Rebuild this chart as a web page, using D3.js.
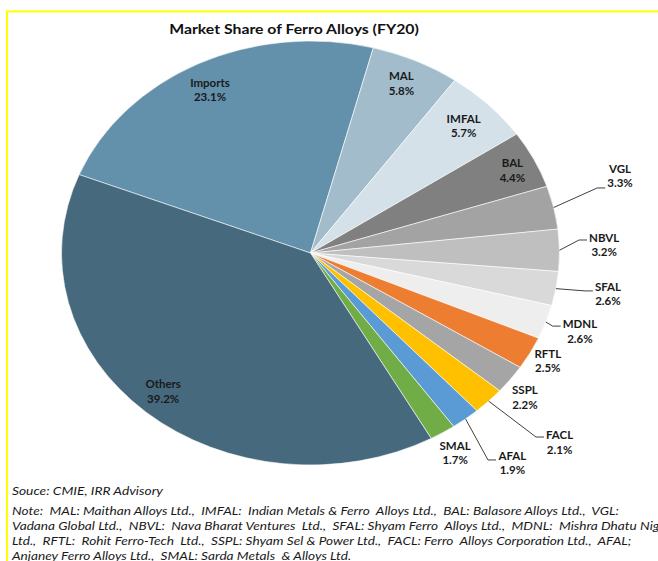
<!DOCTYPE html>
<html lang="en">
<head>
  <meta charset="UTF-8">
  <title>Market Share of Ferro Alloys (FY20)</title>
  <script src="https://d3js.org/d3.v7.min.js"></script>
  <style>
    body {
      margin: 0;
      background: #fff;
    }

    svg {
      display: block;
      font-family: Lato, "Open Sans", sans-serif;
    }

    .slice-label {
      font-size: 11.5px;
      font-weight: bold;
      fill: #1a1a1a;
    }

    .note {
      font-size: 12px;
      font-style: italic;
      fill: #1a1a1a;
      white-space: pre;
    }
  </style>
</head>
<body>
  <svg width="658" height="561"></svg>

  <script>
    const categories = ["Imports", "MAL", "IMFAL", "BAL", "VGL", "NBVL", "SFAL", "MDNL", "RFTL", "SSPL", "FACL", "AFAL", "SMAL", "Others"];
    const shares = [23.1, 5.8, 5.7, 4.4, 3.3, 3.2, 2.6, 2.6, 2.5, 2.2, 2.1, 1.9, 1.7, 39.2];
    const colors = ["#6390aa", "#a2bccc", "#d5e1e9", "#808080", "#a3a3a3", "#bfbfbf", "#d9d9d9", "#eeeeee",
                    "#ed7d31", "#a5a5a5", "#ffc000", "#5b9bd5", "#70ad47", "#46697d"];

    // label placement (relative radius, angle nudge in degrees, leader line)
    const labelRadius = [0.87, 0.88, 0.86, 0.90, 1.295, 1.18, 1.21, 1.143, 1.08, 1.097, 1.34, 1.28, 1.107, 0.88];
    const labelNudge = [-0.8, -0.5, 0, 0.5, -3.9, -1.1, -0.5, -0.2, -0.1, 1.7, -2.6, -0.8, 0.4, 0.9];
    const hasLeader = [0, 0, 0, 0, 1, 1, 1, 1, 0, 0, 1, 1, 0, 0];
    const leaderDy = [0, 0, 0, 0, 12, -5, -3, -5, 0, 0, -5, -3, 0, 0];

    const noteLines = [
      "Note:  MAL: Maithan Alloys Ltd.,  IMFAL:  Indian Metals & Ferro  Alloys Ltd.,  BAL: Balasore Alloys Ltd.,  VGL:",
      "Vadana Global Ltd.,  NBVL:  Nava Bharat Ventures  Ltd.,  SFAL: Shyam Ferro  Alloys Ltd.,  MDNL:  Mishra Dhatu Nigam",
      "Ltd.,  RFTL:  Rohit Ferro-Tech  Ltd.,  SSPL: Shyam Sel & Power Ltd.,  FACL: Ferro  Alloys Corporation Ltd.,  AFAL;",
      "Anjaney Ferro Alloys Ltd.,  SMAL: Sarda Metals  & Alloys Ltd."
    ];

    const svg = d3.select("svg");
    const cx = 310.5, cy = 253, rx = 249, ry = 212;

    // the original picture is stretched sideways; text follows that
    const stretch = (x, y, s) => `translate(${x},${y}) scale(${s},1) translate(${-x},${-y})`;

    svg.append("rect")
      .attr("x", 7).attr("y", 11.5)
      .attr("width", 700).attr("height", 600)
      .attr("fill", "none")
      .attr("stroke", "#ffff00")
      .attr("stroke-width", 2);

    svg.append("text")
      .attr("x", 294).attr("y", 34)
      .attr("text-anchor", "middle")
      .attr("transform", stretch(294, 34, 1.13))
      .style("font-size", "14px")
      .style("font-weight", "bold")
      .attr("fill", "#111")
      .text("Market Share of Ferro Alloys (FY20)");

    const start = -68.3 * Math.PI / 180;
    const pie = d3.pie().sort(null).startAngle(start).endAngle(start + 2 * Math.PI);
    const arcs = pie(shares);
    const arc = d3.arc().innerRadius(0).outerRadius(ry);

    const pieGroup = svg.append("g")
      .attr("transform", `translate(${cx},${cy}) scale(${rx / ry},1)`);

    pieGroup.selectAll("path")
      .data(arcs)
      .enter().append("path")
      .attr("d", arc)
      .attr("fill", (d, i) => colors[i])
      .attr("stroke", "#fff")
      .attr("stroke-width", 0.6)
      .attr("vector-effect", "non-scaling-stroke");

    const pt = (a, r) => [cx + Math.sin(a) * r * rx, cy - Math.cos(a) * r * ry];

    const labels = svg.append("g");
    const leaders = svg.append("g");

    arcs.forEach((d, i) => {
      const mid = (d.startAngle + d.endAngle) / 2;
      const [lx, ly] = pt(mid + labelNudge[i] * Math.PI / 180, labelRadius[i]);
      const t = labels.append("text")
        .attr("class", "slice-label")
        .attr("text-anchor", "middle")
        .attr("x", lx).attr("y", ly);
      t.append("tspan").attr("x", lx).attr("dy", "-0.25em").text(categories[i]);
      t.append("tspan").attr("x", lx).attr("dy", "1.25em").text(shares[i].toFixed(1) + "%");

      if (hasLeader[i]) {
        const w = t.node().getBBox().width;
        const p0 = pt(mid, 1);
        const endX = lx - w / 2 - 2;
        const endY = ly + leaderDy[i];
        leaders.append("polyline")
          .attr("points", [p0, [endX - 8, endY], [endX, endY]].map(p => p.join(",")).join(" "))
          .attr("fill", "none")
          .attr("stroke", "#404040")
          .attr("stroke-width", 1);
      }
    });

    svg.append("text")
      .attr("class", "note")
      .attr("x", 12).attr("y", 495)
      .attr("transform", stretch(12, 495, 1.15))
      .text("Souce: CMIE, IRR Advisory");

    svg.selectAll("text.noteline")
      .data(noteLines)
      .enter().append("text")
      .attr("class", "note noteline")
      .attr("x", 12)
      .attr("y", (d, i) => 515 + i * 15)
      .attr("transform", (d, i) => stretch(12, 515 + i * 15, 1.14))
      .text(d => d);
  </script>
</body>
</html>
